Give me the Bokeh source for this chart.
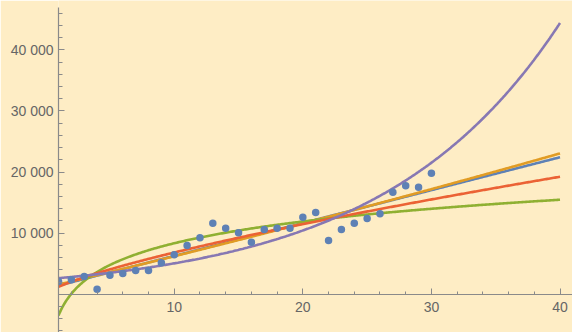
import numpy as np
from bokeh.plotting import figure
from bokeh.models import Range1d, LinearAxis, FixedTicker, ColumnDataSource
from bokeh.embed import file_html
from bokeh.resources import INLINE

# data
days = list(range(1, 31))
values = [2095, 2370, 2910, 840, 3130, 3400, 3900, 3900, 5150, 6460,
          7990, 9240, 11640, 10820, 10060, 8530, 10600, 10820, 10820, 12620,
          13390, 8800, 10600, 11640, 12400, 13170, 16710, 17750, 17530, 19820]
x_major = [10, 20, 30, 40]
x_minor = [2, 4, 6, 8, 12, 14, 16, 18, 22, 24, 26, 28, 32, 34, 36, 38]
y_major = [10000, 20000, 30000, 40000]
y_labels = ["10 000", "20 000", "30 000", "40 000"]
y_minor = [-6000, -4000, -2000, 2000, 4000, 6000, 8000, 12000, 14000, 16000, 18000,
           22000, 24000, 26000, 28000, 32000, 34000, 36000, 38000, 42000, 44000, 46000]

# fitted models, coefficients
linear_fit = [900, 538]            # a + b x
quadratic_fit = [1098, 500.8, 1.2]  # a + b x + c x^2
log_fit = [-3470, 5134]           # a + b ln x
power_fit = [1227, 0.746]         # a x^b
exp_fit = [2456, 0.07236]         # a exp(b x)
fit_x = [1, 40]

xs = np.linspace(fit_x[0], fit_x[1], 400)
curves = [
    (linear_fit[0] + linear_fit[1] * xs, "#5E81B5"),
    (quadratic_fit[0] + quadratic_fit[1] * xs + quadratic_fit[2] * xs ** 2, "#E19C24"),
    (log_fit[0] + log_fit[1] * np.log(xs), "#8FB032"),
    (power_fit[0] * xs ** power_fit[1], "#EB6235"),
    (exp_fit[0] * np.exp(exp_fit[1] * xs), "#8778B3"),
]

bg = "#FEEDC5"
p = figure(width=572, height=332, output_backend="svg", toolbar_location=None,
           x_range=Range1d(1, 40.97), y_range=Range1d(-6249, 48061),
           x_axis_location=None, y_axis_location=None,
           min_border_left=58, min_border_right=0, min_border_top=0, min_border_bottom=0,
           background_fill_color=bg, border_fill_color=bg)
p.outline_line_color = None
p.xgrid.visible = False
p.ygrid.visible = False

axis_col = "#8a8a8a"
lab_col = "#666666"

xa = LinearAxis(fixed_location=0, ticker=FixedTicker(ticks=x_major, minor_ticks=x_minor))
ya = LinearAxis(ticker=FixedTicker(ticks=y_major, minor_ticks=y_minor), bounds=(-6249, 46900))
ya.major_label_overrides = {v: s for v, s in zip(y_major, y_labels)}
for a in (xa, ya):
    a.axis_line_color = axis_col
    a.axis_line_width = 1.2
    a.major_tick_line_color = axis_col
    a.minor_tick_line_color = axis_col
    a.major_tick_in = 6
    a.major_tick_out = 0
    a.minor_tick_out = 0
    a.major_label_text_color = lab_col
    a.major_label_text_font = "Liberation Sans"
    a.major_label_text_font_size = "14px"
xa.minor_tick_in = 3
ya.minor_tick_in = 4
xa.major_label_standoff = 8
ya.major_label_standoff = 5
p.add_layout(xa, "below")
p.add_layout(ya, "left")

for ys, col in curves:
    p.line(xs, ys, line_color=col, line_width=2.6)

src = ColumnDataSource(dict(x=days, y=values))
p.scatter("x", "y", source=src, size=7.5, fill_color="#5E81B5", line_color=None)

open("out.html", "w").write(file_html(p, INLINE))
